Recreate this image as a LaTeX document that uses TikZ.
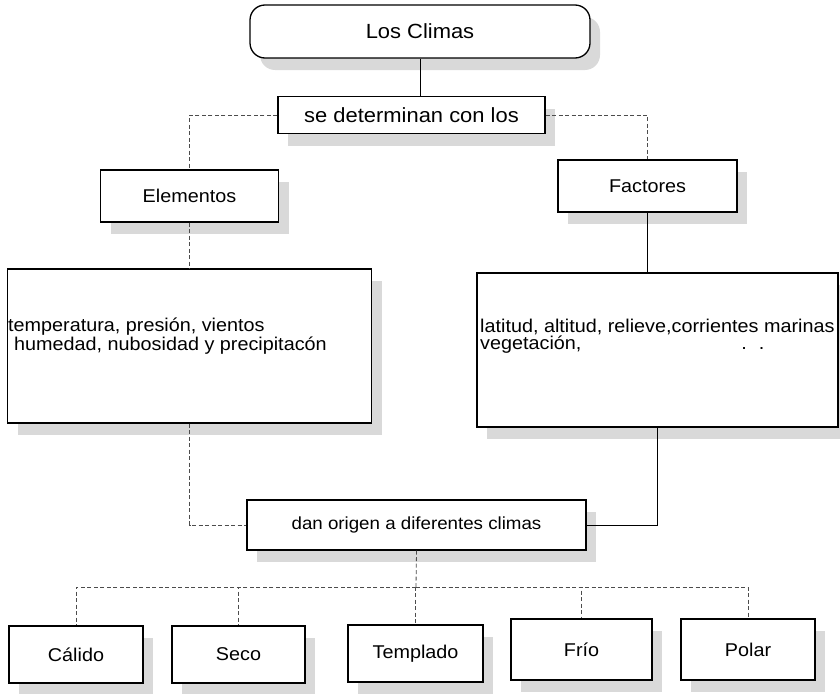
\documentclass[tikz,border=0pt]{standalone}
\usepackage{fontspec}
\setmainfont{Liberation Sans}[FakeStretch=1.07]
\usetikzlibrary{shadows}

\begin{document}
\begin{tikzpicture}[x=1pt,y=-1pt,
  letra/.style={font=\fontsize{18.5}{15}\selectfont},
  grande/.style={font=\fontsize{20.5}{22}\selectfont},
  caja/.style={draw,line width=1.3pt,fill=white,inner sep=0pt,letra,
    drop shadow={shadow xshift=10pt,shadow yshift=-12pt,fill=gray!30,opacity=1}},
  texto/.style={align=left,inner sep=0pt,letra},
  linea/.style={draw,line width=0.9pt},
  guion/.style={draw,line width=0.8pt,gray!60!black,dash pattern=on 4pt off 2.5pt}]
\useasboundingbox (0,0) rectangle (840,693);
\node [caja,grande,rounded corners=15pt,minimum width=340pt,minimum height=53pt] (climas) at (420,31.5) {Los Climas};
\node [caja,grande,minimum width=267pt,minimum height=37pt] (sedet) at (411.5,115) {se determinan con los};
\node [caja,minimum width=178pt,minimum height=52pt] (elem) at (189.5,196) {Elementos};
\node [caja,minimum width=179pt,minimum height=52pt] (fact) at (647.5,186) {Factores};
\node [caja,minimum width=364pt,minimum height=154pt] (izq) at (189.5,346) {};
\node [caja,minimum width=361pt,minimum height=154pt] (der) at (657.5,350) {};
\node [texto,anchor=west] (izqtxt) at (8,336) {temperatura, presión, vientos\\\hspace*{6pt}humedad, nubosidad y precipitacón};
\node [texto,anchor=west] (dertxt) at (480,336) {latitud, altitud, relieve,corrientes marinas\\vegetación,\hspace{160pt}.\hspace{12pt}.};
\node [caja,font=\fontsize{17.5}{15}\selectfont,minimum width=339pt,minimum height=50pt] (dan) at (416.5,525) {dan origen a diferentes climas};
\node [caja,minimum width=134pt,minimum height=57pt] (calido) at (76,654.5) {Cálido};
\node [caja,minimum width=133pt,minimum height=57pt] (seco) at (238.5,654.5) {Seco};
\node [caja,minimum width=135pt,minimum height=57pt] (templado) at (415.5,653.5) {Templado};
\node [caja,minimum width=141pt,minimum height=61pt] (frio) at (581.5,649.5) {Frío};
\node [caja,minimum width=134pt,minimum height=61pt] (polar) at (748,649.5) {Polar};
\coordinate (bus) at (416,587);
\draw [linea] (climas.south) -- (climas.south |- sedet.north);
\draw [guion] (sedet.west) -| (elem.north);
\draw [guion] (sedet.east) -| (fact.north);
\draw [guion] (elem.south) -- (izq.north);
\draw [linea] (fact.south) -- (fact.south |- der.north);
\draw [guion] (izq.south) |- (dan.west);
\draw [linea] (der.south) |- (dan.east);
\draw [guion] (dan.south) -- (bus);
\foreach \c in {calido,seco,templado,frio,polar}
  \draw [guion] (bus) -| (\c.north);
\end{tikzpicture}
\end{document}
